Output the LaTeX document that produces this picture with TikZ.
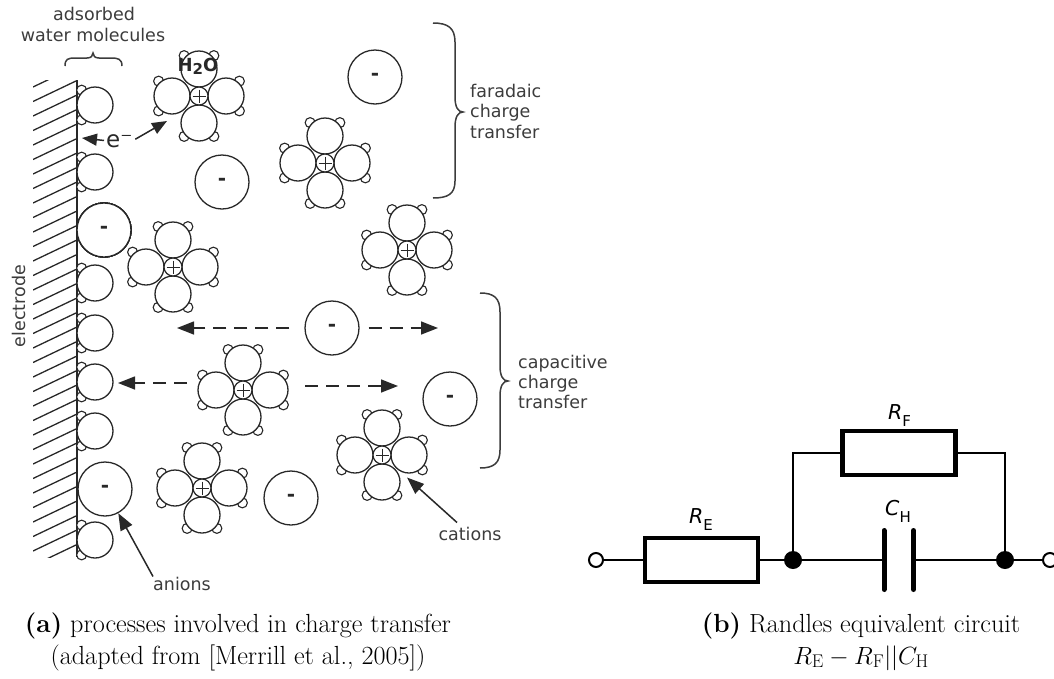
\documentclass[tikz,border=0pt]{standalone}
\usepackage{fontspec}
\newfontfamily\lblfont{DejaVu Sans}
\usetikzlibrary{arrows.meta}
\definecolor{ink}{RGB}{40,40,40}
\definecolor{lblgray}{RGB}{60,60,60}

% water molecule: oxygen circle with two hydrogen bumps facing direction #3
\newcommand\wmol[3]{%
  \draw[hatom] (#1,#2) ++(#3+48:20) circle[radius=5];
  \draw[hatom] (#1,#2) ++(#3-48:20) circle[radius=5];
  \draw[mol] (#1,#2) circle[radius=18];}

% hydrated cation: four water molecules around a central ion
\newcommand\hcation[3]{%
  \node[clusterbox] (#1) at (#2,#3) {};
  \wmol{#2}{#3-27}{270}
  \wmol{#2}{#3+27}{90}
  \wmol{#2-27}{#3}{180}
  \wmol{#2+27}{#3}{0}
  \node[corecat] (#1c) at (#2,#3) {};}

\begin{document}
\begin{tikzpicture}[x=1pt, y=-1pt,
  mol/.style={draw=ink, fill=white, line width=1.3pt},
  hatom/.style={draw=ink, fill=white, line width=1.1pt},
  anion/.style={circle, draw=ink, fill=white, line width=1.3pt, minimum size=54pt,
    inner sep=0pt, text=ink, font=\lblfont\bfseries\fontsize{20}{20}\selectfont},
  corecat/.style={circle, draw=ink, fill=white, line width=1.2pt, minimum size=18pt,
    inner sep=0pt, path picture={
      \draw[ink, line width=1pt]
        ([xshift=-6.5pt]path picture bounding box.center) -- ([xshift=6.5pt]path picture bounding box.center)
        ([yshift=6.5pt]path picture bounding box.center) -- ([yshift=-7pt]path picture bounding box.center);}},
  clusterbox/.style={circle, minimum size=67pt, inner sep=0pt},
  lbl/.style={font=\lblfont\fontsize{17.5}{21}\selectfont, text=lblgray, inner sep=0pt},
  dasharrow/.style={draw=ink, line width=1.5pt, dash pattern=on 13pt off 8pt,
    -{Triangle[length=17pt,width=13pt]}},
  solidarrow/.style={draw=ink, line width=1.5pt, -{Triangle[length=16pt,width=12pt]}},
  bracepath/.style={draw=lblgray, line width=1.5pt},
  hatchline/.style={draw=ink, line width=1.3pt},
  wire/.style={draw=black, line width=2pt},
  res/.style={draw=black, line width=4.5pt, minimum width=113pt, minimum height=44pt, inner sep=0pt},
  jdot/.style={circle, fill=black, minimum size=18pt, inner sep=0pt},
  term/.style={circle, draw=black, fill=white, line width=2pt, minimum size=14pt, inner sep=0pt},
  plate/.style={draw=black, line width=5pt, line cap=round},
  clbl/.style={font=\lblfont\itshape\fontsize{20.5}{20.5}\selectfont, inner sep=0pt},
  captext/.style={font=\fontsize{26.2}{30}\selectfont, inner sep=0pt}
]
\useasboundingbox (0,0) rectangle (1054,678);

% ---------- electrode ----------
\begin{scope}
  \clip (33,80) rectangle (77,557);
  \foreach \k in {0,...,35}
    \draw[hatchline] (33,66+14.5*\k+21) -- (77,66+14.5*\k);
\end{scope}
\draw[ink, line width=1.5pt] (77,80) -- (77,557);
\node[lbl, rotate=90, anchor=base] (elec) at (25,306) {electrode};

% adsorbed water layer
\foreach \yy in {105,172,283,333,382,431,540}
  \wmol{95}{\yy}{180}
\node[anion] (aE1) at (104,230) {\raisebox{-2pt}{-}};
\node[anion] (aE2) at (105,489) {\raisebox{-2pt}{-}};

% ---------- hydrated cations ----------
\hcation{K1}{199}{96}
\hcation{K2}{325}{163}
\hcation{K3}{173}{267}
\hcation{K4}{243}{390}
\hcation{K5}{407}{250}
\hcation{K6}{382}{455}
\hcation{K7}{202}{488}
\node[font=\lblfont\bfseries\fontsize{18}{18}\selectfont, text=ink, inner sep=0pt] (h2o)
  at (198,66) {H\raisebox{-3pt}{\fontsize{15}{15}\selectfont 2}O};

% ---------- free anions ----------
\node[anion] (a1) at (222,182) {\raisebox{-2pt}{-}};
\node[anion] (a2) at (375,77) {\raisebox{-2pt}{-}};
\node[anion] (a3) at (332,328) {\raisebox{-2pt}{-}};
\node[anion] (a4) at (450,399) {\raisebox{-2pt}{-}};
\node[anion] (a5) at (291,498) {\raisebox{-2pt}{-}};

% ---------- electron transfer ----------
\node[lbl, anchor=base west, text=ink, font=\lblfont\fontsize{23}{23}\selectfont] (eLbl) at (106,147) {e⁻};
\coordinate (eTipL) at (82,138);
\coordinate (eTipR) at (167,121);
\draw[solidarrow, -{Triangle[length=15pt,width=12pt]}, shorten <=2pt] (eLbl.west) -- (eTipL);
\draw[solidarrow, -{Triangle[length=15pt,width=12pt]}, shorten <=3pt] (eLbl.east) -- (eTipR);

% ---------- migration arrows ----------
\coordinate (aL) at (177,328);
\coordinate (aR) at (438,328);
\draw[dasharrow, shorten <=15pt] (a3) -- (aL);
\draw[dasharrow, shorten <=9pt] (a3) -- (aR);
\coordinate (kL0) at (187,383);
\coordinate (kL) at (118,383);
\coordinate (kR0) at (305,386);
\coordinate (kR) at (398,386);
\draw[dasharrow] (kL0) -- (kL);
\draw[dasharrow] (kR0) -- (kR);

% ---------- braces and labels ----------
\draw[bracepath] (65,66) .. controls (65,59) and (68,58) .. (75,58) -- (87,58)
  .. controls (91,58) and (93,56) .. (93,53) .. controls (93,56) and (95,58) .. (99,58)
  -- (111,58) .. controls (118,58) and (122,59) .. (122,66);
\node[lbl, anchor=base] (adsA) at (94,20) {adsorbed};
\node[lbl, anchor=base] (adsB) at (93,41) {water molecules};

\draw[bracepath] (433,23) .. controls (448,23) and (455,28) .. (455,42) -- (455,97)
  .. controls (455,107) and (458,112) .. (463,112) .. controls (458,112) and (455,117) .. (455,127)
  -- (455,181) .. controls (455,194) and (448,198) .. (433,198);
\node[lbl, anchor=base west] (farA) at (470,97) {faradaic};
\node[lbl, anchor=base west] (farB) at (470,117.5) {charge};
\node[lbl, anchor=base west] (farC) at (470,138) {transfer};

\draw[bracepath] (480,293) .. controls (494,293) and (500,298) .. (500,312) -- (500,366)
  .. controls (500,376) and (503,381) .. (508,381) .. controls (503,381) and (500,386) .. (500,396)
  -- (500,450) .. controls (500,463) and (494,468) .. (480,468);
\node[lbl, anchor=base west] (capA) at (518,368) {capacitive};
\node[lbl, anchor=base west] (capB) at (518,388) {charge};
\node[lbl, anchor=base west] (capC) at (518,408) {transfer};

\node[lbl, anchor=base] (anl) at (182,590) {anions};
\draw[solidarrow, -{Triangle[length=17pt,width=13pt]}] (anl.north west) -- (aE2);
\node[lbl, anchor=base] (catl) at (470,540) {cations};
\draw[solidarrow, -{Triangle[length=17pt,width=13pt]}] ([shift={(-13pt,4pt)}]catl.north) -- (K6);

% ---------- Randles circuit ----------
\node[term] (T1) at (596,560) {};
\node[term] (T2) at (1050,560) {};
\node[res] (RE) at (701.5,560) {};
\node[res] (RF) at (899,453) {};
\node[jdot] (J1) at (793,560) {};
\node[jdot] (J2) at (1005,560) {};
\coordinate (C1) at (884,560);
\coordinate (C2) at (913.5,560);
\draw[wire] (T1) -- (RE);
\draw[wire] (RE) -- (J1) -- (C1);
\draw[wire] (C2) -- (J2) -- (T2);
\draw[wire] (J1.center) |- (RF.west);
\draw[wire] (RF.east) -| (J2.center);
\draw[plate] ([yshift=29.5pt]C1) -- ([yshift=-29.5pt]C1);
\draw[plate] ([yshift=29.5pt]C2) -- ([yshift=-29.5pt]C2);
\node[clbl, anchor=base west] (lRE) at (689,523) {R\raisebox{-7pt}{\upshape\fontsize{15}{15}\selectfont E}};
\node[clbl, anchor=base west] (lCH) at (885,515) {C\raisebox{-7pt}{\upshape\fontsize{15}{15}\selectfont H}};
\node[clbl, anchor=base west] (lRF) at (888,419) {R\raisebox{-7pt}{\upshape\fontsize{15}{15}\selectfont F}};

% ---------- captions ----------
\node[captext, anchor=base] (capa1) at (238,632) {\textbf{(a)} processes involved in charge transfer};
\node[captext, anchor=base] (capa2) at (238,664) {(adapted from [Merrill et al., 2005])};
\node[captext, anchor=base] (capb1) at (861,632) {\textbf{(b)} Randles equivalent circuit};
\node[captext, anchor=base] (capb2) at (861,664) {$R_{\mathrm{E}} - R_{\mathrm{F}}||C_{\mathrm{H}}$};
\end{tikzpicture}
\end{document}
